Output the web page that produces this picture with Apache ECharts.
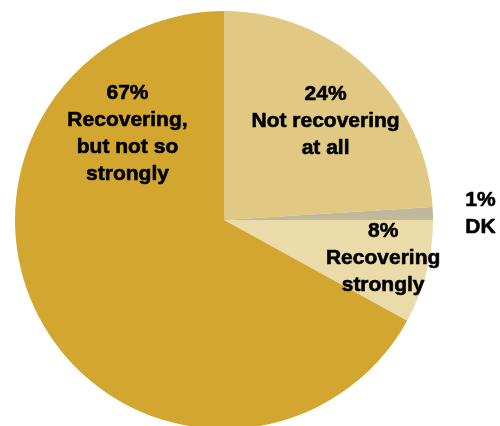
<!DOCTYPE html>
<html>
<head>
<meta charset="utf-8">
<script src="https://cdn.jsdelivr.net/npm/echarts@6/dist/echarts.min.js"></script>
<style>
  html, body { margin: 0; padding: 0; background: #fff; }
  #chart { width: 500px; height: 426px; }
</style>
</head>
<body>
<div id="chart"></div>
<script>
// Survey answers, clockwise from 12 o'clock
const categories = ['Not recovering\nat all', 'DK', 'Recovering\nstrongly', 'Recovering,\nbut not so\nstrongly'];
const shares = [24, 1, 8, 67];
const colors = ['#E1C883', '#C1B79B', '#EADBA9', '#D2A62F'];
// Label nudges from the default inside position
const labelOffsets = [[28, -20], [149, -3], [55, 11], [-4, -141]];

const chart = echarts.init(document.getElementById('chart'));
chart.setOption({
  animation: false,
  series: [{
    type: 'pie',
    center: [224, 220],
    radius: [0, 209],
    startAngle: 90,
    clockwise: true,
    silent: true,
    itemStyle: { borderWidth: 0 },
    label: {
      show: true,
      position: 'inside',
      color: '#000',
      fontFamily: 'Liberation Sans, Arial, sans-serif',
      fontWeight: 'bold',
      fontSize: 21,
      lineHeight: 27,
      align: 'center',
      textBorderColor: '#000',
      textBorderWidth: 0.6,
      formatter: p => p.value + '%\n' + p.name
    },
    labelLine: { show: false },
    data: categories.map((name, i) => ({
      name: name,
      value: shares[i],
      itemStyle: { color: colors[i] },
      label: { offset: labelOffsets[i] }
    }))
  }]
});
</script>
</body>
</html>
